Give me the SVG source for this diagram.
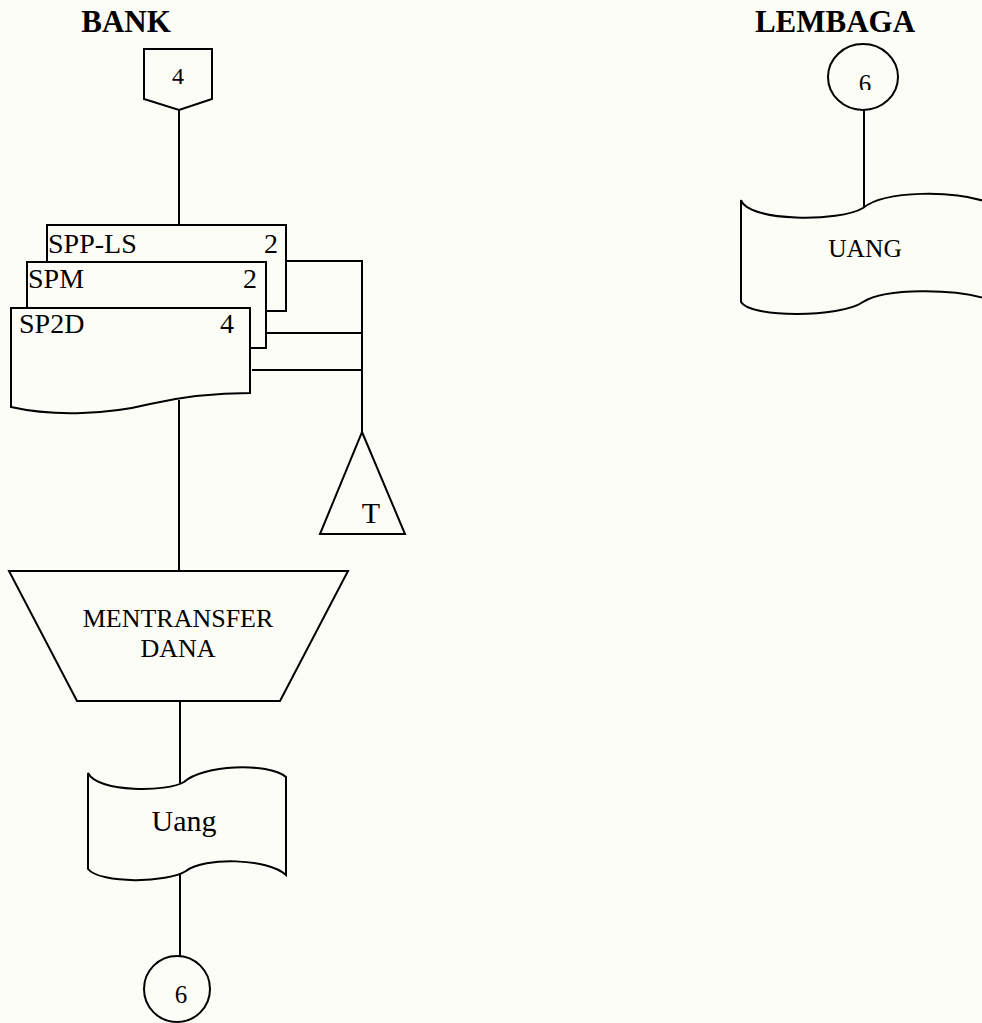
<svg xmlns="http://www.w3.org/2000/svg" width="982" height="1023" viewBox="0 0 982 1023">
<defs>
<style>
.s{fill:#fdfdf7;stroke:#000;stroke-width:2;stroke-linejoin:miter}
.l{fill:none;stroke:#000;stroke-width:2}
text{font-family:"Liberation Serif","Times New Roman",serif;fill:#000}
.h{font-weight:bold;font-size:31px;text-anchor:middle}
.d{font-size:28px}
.c{text-anchor:middle}
</style>
<clipPath id="clip6"><rect x="820" y="40" width="90" height="50"/></clipPath>
</defs>
<rect width="982" height="1023" fill="#fdfdf7"/>
<g id="titles">
<text class="h" x="126" y="32">BANK</text>
<text class="h" x="835" y="32">LEMBAGA</text>
</g>
<g id="connectors">
<path class="l" d="M179,110 V225"/>
<path class="l" d="M283,261 H362 V432"/>
<path class="l" d="M266,333 H362"/>
<path class="l" d="M252,370 H362"/>
<path class="l" d="M179,400 V571"/>
<path class="l" d="M180,701 V783"/>
<path class="l" d="M180,872 V956"/>
<path class="l" d="M864,110 V208"/>
</g>
<g id="offpage4">
<path class="s" d="M144,49 H212 V99 L179,110 L144,99 Z"/>
<text class="c" x="178" y="84" font-size="24">4</text>
</g>
<g id="doc-spp-ls">
<rect class="s" x="47" y="225" width="239" height="86"/>
<text class="d" x="48" y="253">SPP-LS</text>
<text class="d" x="278" y="253" text-anchor="end">2</text>
</g>
<g id="doc-spm">
<rect class="s" x="27" y="262" width="239" height="86"/>
<text class="d" x="28" y="288">SPM</text>
<text class="d" x="257" y="288" text-anchor="end">2</text>
</g>
<g id="doc-sp2d">
<path class="s" d="M11,308 H250 V393 C215,393 185,396 150,404 C110,414 55,417 11,407 Z"/>
<text class="d" x="19" y="333">SP2D</text>
<text class="d" x="234" y="333" text-anchor="end">4</text>
</g>
<g id="file-t">
<path class="s" d="M362,432 L405,534 H320 Z"/>
<text class="c" x="371" y="523" font-size="30">T</text>
</g>
<g id="manual-mentransfer">
<path class="s" d="M9,571 H348 L280,701 H77 Z"/>
<text class="c" x="178" y="627" font-size="26">MENTRANSFER</text>
<text class="c" x="178" y="657" font-size="26">DANA</text>
</g>
<g id="tape-uang">
<path class="s" d="M88,773 C98,793 168,792 184,782 C202,765 268,762 286,777 V875 C268,858 204,857 186,871 C168,883 100,884 88,869 Z"/>
<text class="c" x="184" y="831" font-size="30">Uang</text>
</g>
<g id="connector6-bottom">
<circle class="s" cx="177" cy="989" r="33"/>
<text class="c" x="181" y="1003" font-size="25">6</text>
</g>
<g id="connector6-top">
<ellipse class="s" cx="863" cy="77" rx="35" ry="33"/>
<text class="c" x="865" y="92" font-size="25" clip-path="url(#clip6)">6</text>
</g>
<g id="tape-uang-lembaga">
<path class="s" d="M741,200 C748,222 840,222 863,208 C885,190 955,190 990,203 V300 C955,288 885,288 863,302 C840,318 750,318 741,302 Z"/>
<text class="c" x="865" y="257" font-size="25.5">UANG</text>
</g>
</svg>
